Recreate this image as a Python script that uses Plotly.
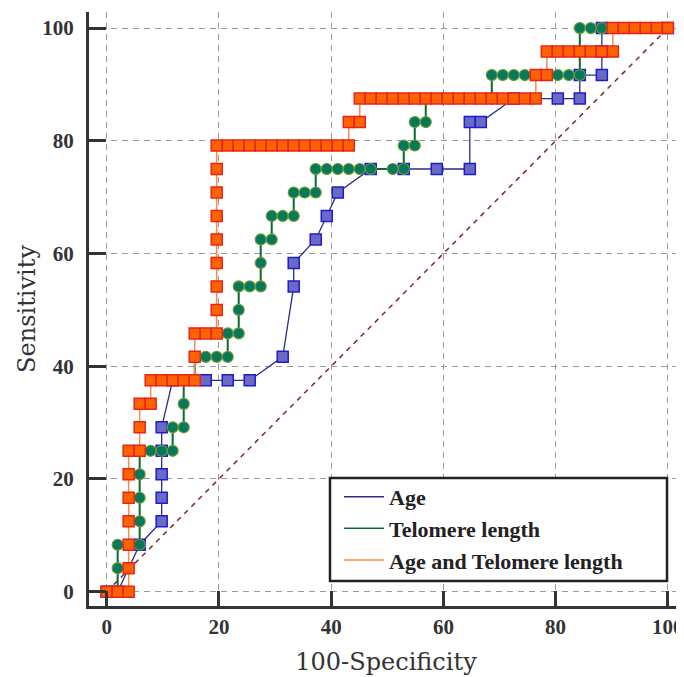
import plotly.graph_objects as go

# ROC points (100-Specificity, Sensitivity)
age_x = [0, 1.96, 5.88, 9.8, 9.8, 9.8, 9.8, 9.8, 11.76, 17.65, 21.57, 25.49, 31.37, 33.33, 33.33,
         37.25, 39.22, 41.18, 47.06, 52.94, 58.82, 64.71, 64.71, 66.67, 72.55, 80.39, 84.31,
         84.31, 88.24, 88.24, 88.24, 100]
age_y = [0, 0, 8.33, 12.5, 16.67, 20.83, 25, 29.17, 37.5, 37.5, 37.5, 37.5, 41.67, 54.17, 58.33,
         62.5, 66.67, 70.83, 75, 75, 75, 75, 83.33, 83.33, 87.5, 87.5, 87.5,
         91.67, 91.67, 95.83, 100, 100]

tel_x = [0, 1.96, 1.96, 1.96, 3.92, 5.88, 5.88, 5.88, 5.88, 5.88, 7.84, 9.8, 11.76, 11.76, 13.73,
         13.73, 13.73, 15.69, 15.69, 17.65, 19.61, 21.57, 21.57, 23.53, 23.53, 23.53, 25.49, 27.45,
         27.45, 27.45, 29.41, 29.41, 31.37, 33.33, 33.33, 35.29, 37.25, 37.25, 39.22, 41.18, 43.14,
         45.1, 47.06, 50.98, 52.94, 52.94, 54.9, 54.9, 56.86, 56.86, 68.63, 68.63, 70.59, 72.55,
         74.51, 76.47, 78.43, 80.39, 82.35, 84.31, 84.31, 84.31, 86.27, 88.24, 100]
tel_y = [0, 0, 4.17, 8.33, 8.33, 8.33, 12.5, 16.67, 20.83, 25, 25, 25, 25, 29.17, 29.17,
         33.33, 37.5, 37.5, 41.67, 41.67, 41.67, 41.67, 45.83, 45.83, 50, 54.17, 54.17, 54.17,
         58.33, 62.5, 62.5, 66.67, 66.67, 66.67, 70.83, 70.83, 70.83, 75, 75, 75, 75,
         75, 75, 75, 75, 79.17, 79.17, 83.33, 83.33, 87.5, 87.5, 91.67, 91.67, 91.67,
         91.67, 91.67, 91.67, 91.67, 91.67, 91.67, 95.83, 100, 100, 100, 100]

comb_x = [0, 1.96, 3.92, 3.92, 3.92, 3.92, 3.92, 3.92, 3.92, 5.88, 5.88, 5.88, 7.84, 7.84, 9.8,
          11.76, 13.73, 15.69, 15.69, 15.69, 17.65, 19.61, 19.61, 19.61, 19.61, 19.61, 19.61,
          19.61, 19.61, 19.61, 21.57, 23.53, 25.49, 27.45, 29.41, 31.37, 33.33, 35.29, 37.25,
          39.22, 41.18, 43.14, 43.14, 45.1, 45.1, 47.06, 49.02, 50.98, 52.94, 54.9, 56.86, 58.82,
          60.78, 62.75, 64.71, 66.67, 68.63, 70.59, 72.55, 74.51, 76.47, 76.47, 78.43, 78.43,
          80.39, 82.35, 84.31, 86.27, 88.24, 90.2, 90.2, 92.16, 94.12, 96.08, 98.04, 100]
comb_y = [0, 0, 0, 4.17, 8.33, 12.5, 16.67, 20.83, 25, 25, 29.17, 33.33, 33.33, 37.5, 37.5,
          37.5, 37.5, 37.5, 41.67, 45.83, 45.83, 45.83, 50, 54.17, 58.33, 62.5, 66.67,
          70.83, 75, 79.17, 79.17, 79.17, 79.17, 79.17, 79.17, 79.17, 79.17, 79.17, 79.17,
          79.17, 79.17, 79.17, 83.33, 83.33, 87.5, 87.5, 87.5, 87.5, 87.5, 87.5, 87.5, 87.5,
          87.5, 87.5, 87.5, 87.5, 87.5, 87.5, 87.5, 87.5, 87.5, 91.67, 91.67, 95.83,
          95.83, 95.83, 95.83, 95.83, 95.83, 95.83, 100, 100, 100, 100, 100, 100]

ref_x = [0, 100]
ref_y = [0, 100]

tick_vals = [0, 20, 40, 60, 80, 100]
tick_text = ["0", "20", "40", "60", "80", "100"]

names = ["Age", "Telomere length", "Age and Telomere length"]
line_colors = ["#2b2b8c", "#0b6b2b", "#ff8a4a"]

TITLE_FONT = "DejaVu Serif"
LABEL_FONT = "Liberation Serif"

fig = go.Figure()

fig.add_trace(go.Scatter(x=ref_x, y=ref_y, mode="lines", showlegend=False, hoverinfo="skip",
                         line=dict(color="#7a2a2a", width=1.5, dash="5px,5px")))

fig.add_trace(go.Scatter(x=age_x, y=age_y, mode="lines+markers", showlegend=False, name=names[0],
                         line=dict(color=line_colors[0], width=1.3),
                         marker=dict(symbol="square", size=11, color="#6a6ac6",
                                     line=dict(color="#1c1cd0", width=1.5))))

fig.add_trace(go.Scatter(x=tel_x, y=tel_y, mode="lines+markers", showlegend=False, name=names[1],
                         line=dict(color=line_colors[1], width=2),
                         marker=dict(symbol="circle", size=11, color="#08785c",
                                     line=dict(color="#6c9a30", width=1.2))))

fig.add_trace(go.Scatter(x=comb_x, y=comb_y, mode="lines+markers", showlegend=False, name=names[2],
                         line=dict(color=line_colors[2], width=1.5),
                         marker=dict(symbol="square", size=11, color="#ff6200",
                                     line=dict(color="#e8241a", width=1.5))))

# legend entries (line samples only)
for i, (n, c) in enumerate(zip(names, line_colors)):
    fig.add_trace(go.Scatter(x=[None], y=[None], mode="lines", name=n, legendgroup="g%d" % i,
                             line=dict(color=c, width=1.5)))

axis_common = dict(
    showline=True, linewidth=3, linecolor="#333333",
    ticks="inside", tickwidth=3, tickcolor="#333333",
    showgrid=True, gridcolor="#9a9a9a", gridwidth=1.3, griddash="6px,5px",
    zeroline=False, tickvals=tick_vals, ticktext=tick_text,
    tickfont=dict(family=LABEL_FONT, size=21, color="#333333", weight="bold"),
    mirror=False, automargin=False,
)

fig.update_xaxes(**axis_common, range=[-3.15, 102.7], ticklen=15, ticklabeloverflow="allow",
                 title=dict(text="100-Specificity", font=dict(family=TITLE_FONT, size=24, color="#333333"),
                            standoff=15))
fig.update_yaxes(**axis_common, range=[-2.54, 102.86], ticklen=17, ticklabelstandoff=8,
                 title=dict(text="Sensitivity", font=dict(family=TITLE_FONT, size=24, color="#333333"),
                            standoff=0))

# legend frame
fig.add_shape(type="rect", xref="paper", yref="paper",
              x0=0.4057, x1=0.9731, y0=0.0421, y1=0.2155,
              line=dict(color="#222222", width=2.5), fillcolor="white", layer="above")

# the page adds an 8px body margin, so the figure is 8px smaller than the window
fig.update_layout(
    width=676, height=669,
    margin=dict(l=81, r=1, t=4, b=71, autoexpand=False),
    paper_bgcolor="white", plot_bgcolor="white",
    showlegend=True,
    legend=dict(x=0.4209, y=0.2189, xanchor="left", yanchor="top",
                bgcolor="rgba(0,0,0,0)", borderwidth=0,
                font=dict(family=LABEL_FONT, size=22, color="#222222", weight="bold"),
                itemwidth=40, tracegroupgap=0),
)

fig.write_html("out.html")
